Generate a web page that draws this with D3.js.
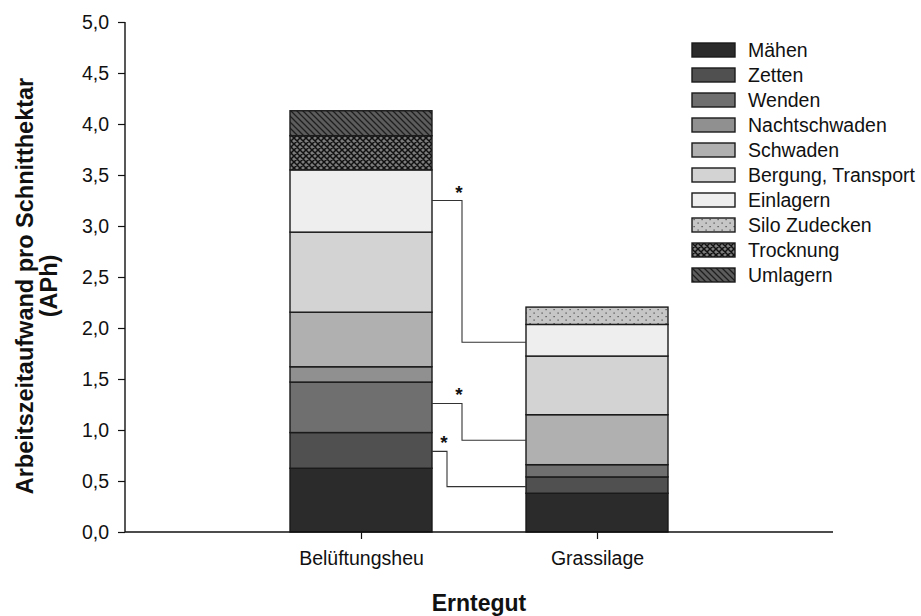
<!DOCTYPE html>
<html>
<head>
<meta charset="utf-8">
<script src="https://cdn.jsdelivr.net/npm/d3@7"></script>
<style>
  html, body { margin: 0; padding: 0; background: #fff; }
  svg { display: block; font-family: Arial, "Liberation Sans", sans-serif; }
</style>
</head>
<body>
<svg id="chart" width="921" height="616"></svg>
<script>
// Harvested crops on the x axis
const categories = ["Belüftungsheu", "Grassilage"];

// Work steps, stacked bottom to top
const processes = ["Mähen", "Zetten", "Wenden", "Nachtschwaden", "Schwaden",
  "Bergung, Transport", "Einlagern", "Silo Zudecken", "Trocknung", "Umlagern"];

// Labour time per cut hectare (APh), one value per work step
const belueftungsheu = [0.625, 0.35, 0.495, 0.15, 0.535, 0.785, 0.61, 0, 0.335, 0.245];
const grassilage     = [0.38, 0.16, 0.12, 0, 0.49, 0.575, 0.31, 0.17, 0, 0];

// Y axis ticks
const yTicks = [0, 0.5, 1.0, 1.5, 2.0, 2.5, 3.0, 3.5, 4.0, 4.5, 5.0];

// Significance brackets: level on the left bar, level on the right bar
const sigLeft  = [3.25, 1.26, 0.79];
const sigRight = [1.86, 0.90, 0.445];
const sigLabel = ["*", "*", "*"];

const svg = d3.select("#chart");

// Layout
const axisLeft = 125, axisRight = 833, axisTop = 22, axisBottom = 532;
const barWidth = 142;
const elbowX = [462, 462, 447];
const fontSize = 19.5;

const y = d3.scaleLinear().domain([0, 5]).range([axisBottom, axisTop]);
const x = d3.scalePoint().domain(categories).range([361, 597]);

// Fills
const fills = ["#2b2b2b", "#505050", "#6f6f6f", "#909090", "#b0b0b0",
  "#d3d3d3", "#eeeeee", "url(#pSilo)", "url(#pTrock)", "url(#pUml)"];

const defs = svg.append("defs");
// Silo Zudecken: dotted light grey
const pSilo = defs.append("pattern").attr("id", "pSilo")
  .attr("patternUnits", "userSpaceOnUse").attr("width", 8).attr("height", 7);
pSilo.append("rect").attr("width", 8).attr("height", 7).attr("fill", "#c6c6c6");
pSilo.append("rect").attr("x", 1.5).attr("y", 1).attr("width", 1.2).attr("height", 1.2).attr("fill", "#444");
pSilo.append("rect").attr("x", 5.5).attr("y", 4.5).attr("width", 1.2).attr("height", 1.2).attr("fill", "#444");
// Trocknung: dense cross hatch
const pTrock = defs.append("pattern").attr("id", "pTrock")
  .attr("patternUnits", "userSpaceOnUse").attr("width", 6).attr("height", 6);
pTrock.append("rect").attr("width", 6).attr("height", 6).attr("fill", "#7c7c7c");
pTrock.append("path").attr("d", "M-1,-1 L7,7 M-1,5 L1,7 M5,-1 L7,1 M7,-1 L-1,7 M-1,1 L1,-1 M5,7 L7,5")
  .attr("stroke", "#111").attr("stroke-width", 1.5);
// Umlagern: diagonal hatch
const pUml = defs.append("pattern").attr("id", "pUml")
  .attr("patternUnits", "userSpaceOnUse").attr("width", 6).attr("height", 6);
pUml.append("rect").attr("width", 6).attr("height", 6).attr("fill", "#5c5c5c");
pUml.append("path").attr("d", "M-1,-1 L7,7 M-1,5 L1,7 M5,-1 L7,1")
  .attr("stroke", "#1e1e1e").attr("stroke-width", 1.3);

// Stack the data
const rows = categories.map((c, i) => {
  const vals = i === 0 ? belueftungsheu : grassilage;
  const o = { cat: c };
  processes.forEach((p, j) => o[p] = vals[j]);
  return o;
});
const stacked = d3.stack().keys(processes)(rows);

const gBars = svg.append("g");
stacked.forEach((layer, k) => {
  gBars.selectAll(null).data(layer.filter(d => d[1] - d[0] > 0))
    .enter().append("rect")
    .attr("x", d => x(d.data.cat) - barWidth / 2)
    .attr("y", d => y(d[1]))
    .attr("width", barWidth)
    .attr("height", d => y(d[0]) - y(d[1]))
    .attr("fill", fills[k])
    .attr("stroke", "#1a1a1a")
    .attr("stroke-width", 1.4);
});

// Significance brackets
const gSig = svg.append("g");
sigLeft.forEach((v, i) => {
  const x0 = x(categories[0]) + barWidth / 2;
  const x1 = x(categories[1]) - barWidth / 2;
  const ex = elbowX[i];
  gSig.append("path")
    .attr("d", `M${x0},${y(v)} H${ex} V${y(sigRight[i])} H${x1}`)
    .attr("fill", "none").attr("stroke", "#333").attr("stroke-width", 1.1);
  gSig.append("text")
    .attr("x", ex - 3).attr("y", y(v) - 2)
    .attr("text-anchor", "middle")
    .attr("font-size", 19).attr("font-weight", "bold").attr("fill", "#111")
    .text(sigLabel[i]);
});

// Y axis
const yAxis = d3.axisLeft(y).tickValues(yTicks).tickSize(7).tickPadding(9)
  .tickFormat(d => d3.format(".1f")(d).replace(".", ","));
const gy = svg.append("g").attr("transform", `translate(${axisLeft},0)`).call(yAxis);
gy.select(".domain").attr("d", `M0,${axisTop}V${axisBottom}`).attr("stroke", "#111").attr("stroke-width", 1.4);
gy.selectAll(".tick line").attr("stroke", "#111").attr("stroke-width", 1.2);
gy.selectAll(".tick text").attr("font-size", fontSize).attr("fill", "#111").attr("font-family", null);

// X axis
const xAxis = d3.axisBottom(x).tickSize(7).tickPadding(12);
const gx = svg.append("g").attr("transform", `translate(0,${axisBottom})`).call(xAxis);
gx.select(".domain").attr("d", `M${axisLeft},0H${axisRight}`).attr("stroke", "#111").attr("stroke-width", 1.4);
gx.selectAll(".tick line").attr("stroke", "#111").attr("stroke-width", 1.2);
gx.selectAll(".tick text").attr("font-size", fontSize).attr("fill", "#111").attr("font-family", null);

// Axis titles
svg.append("text")
  .attr("x", (axisLeft + axisRight) / 2).attr("y", 611)
  .attr("text-anchor", "middle").attr("font-size", 23).attr("font-weight", "bold")
  .attr("fill", "#111").text("Erntegut");

const yTitle = svg.append("text")
  .attr("transform", "translate(0,286) rotate(-90)")
  .attr("text-anchor", "middle").attr("font-size", 23.5).attr("font-weight", "bold").attr("fill", "#111");
yTitle.append("tspan").attr("x", 0).attr("y", 33).text("Arbeitszeitaufwand pro Schnitthektar");
yTitle.append("tspan").attr("x", 0).attr("y", 57).text("(APh)");

// Legend
const legend = svg.append("g").attr("transform", "translate(692,43)");
processes.forEach((p, i) => {
  const g = legend.append("g").attr("transform", `translate(0,${i * 25})`);
  g.append("rect").attr("width", 43).attr("height", 14)
    .attr("fill", fills[i]).attr("stroke", "#1a1a1a").attr("stroke-width", 1.4);
  g.append("text").attr("x", 56).attr("y", 14)
    .attr("font-size", fontSize).attr("fill", "#111").text(p);
});
</script>
</body>
</html>
